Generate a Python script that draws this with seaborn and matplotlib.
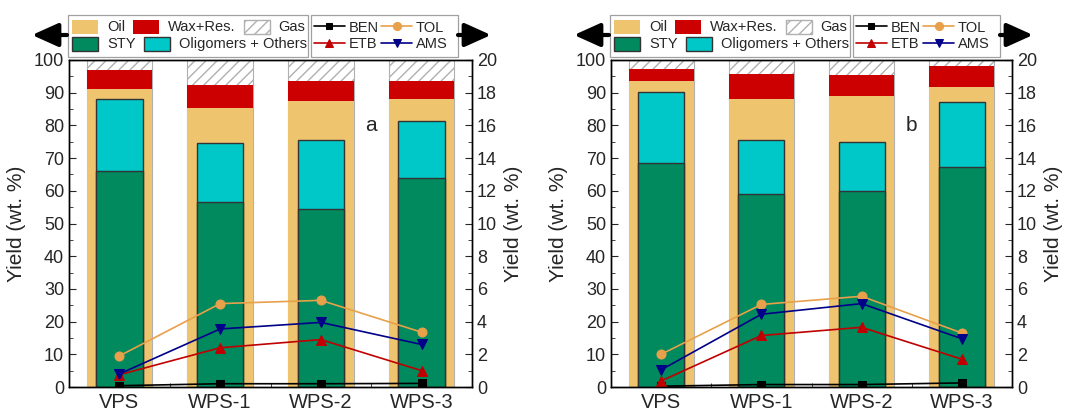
import numpy as np
import matplotlib.pyplot as plt
import seaborn as sns
from matplotlib.patches import Patch, Rectangle, FancyArrowPatch
from matplotlib.ticker import MultipleLocator, FixedLocator

samples = ["VPS", "WPS-1", "WPS-2", "WPS-3"]

# panel a
oil_a = [91.0, 85.4, 87.4, 88.2]
wax_a = [6.0, 7.1, 6.3, 5.3]
sty_a = [66.0, 56.5, 54.5, 64.0]
olig_a = [22.2, 18.0, 21.0, 17.4]
ben_a = [0.08, 0.2, 0.2, 0.22]
tol_a = [1.9, 5.1, 5.3, 3.35]
etb_a = [0.75, 2.4, 2.9, 1.0]
ams_a = [0.8, 3.55, 3.95, 2.6]

# panel b
oil_b = [93.7, 88.0, 89.0, 91.6]
wax_b = [3.4, 7.6, 6.4, 6.7]
sty_b = [68.4, 59.0, 60.0, 67.4]
olig_b = [21.9, 16.5, 14.8, 19.8]
ben_b = [0.05, 0.15, 0.15, 0.25]
tol_b = [2.0, 5.05, 5.55, 3.3]
etb_b = [0.37, 3.15, 3.65, 1.7]
ams_b = [1.05, 4.45, 5.1, 2.95]

c_oil = "#EEC46E"
c_wax = "#CC0000"
c_sty = "#008A5E"
c_olig = "#00C8C8"
c_ben = "black"
c_tol = "#E8A04A"
c_etb = "#C00000"
c_ams = "#000088"
c_gas = "#B0B0B0"

sns.set_style("ticks")
plt.rcParams["font.family"] = ["Liberation Sans", "DejaVu Sans"]

fig = plt.figure(figsize=(10.66, 4.12), dpi=100)
W, H = 1066, 412


def row_legend(handles, x, y):
    # one legend row, no frame; a common frame is drawn afterwards
    leg = fig.legend(handles=handles, ncol=len(handles), loc="center left",
                     bbox_to_anchor=(x / W, 1 - y / H), fontsize=10.5, frameon=False,
                     handlelength=1.8, handleheight=1.1, handletextpad=0.6,
                     columnspacing=0.55, borderpad=0, borderaxespad=0)
    return leg


def frame_box(xa, xb, ya, yb):
    fig.add_artist(Rectangle((xa / W, 1 - yb / H), (xb - xa) / W, (yb - ya) / H,
                             transform=fig.transFigure, facecolor="white",
                             edgecolor="#A0A0A0", lw=0.9, zorder=0.5))


def panel(x0, x1, oil, wax, sty, olig, ben, tol, etb, ams, letter):
    ax = fig.add_axes([x0 / W, 25 / H, (x1 - x0) / W, 327 / H])
    total = [100] * len(samples)
    ow = [o + w for o, w in zip(oil, wax)]
    so = [s + g for s, g in zip(sty, olig)]
    # outer bar: gas / wax / oil
    sns.barplot(x=samples, y=total, color="white", width=0.65, saturation=1, ax=ax,
                edgecolor=c_gas, linewidth=0.8, hatch="///")
    sns.barplot(x=samples, y=ow, color=c_wax, width=0.65, saturation=1, ax=ax, linewidth=0)
    sns.barplot(x=samples, y=oil, color=c_oil, width=0.65, saturation=1, ax=ax, linewidth=0)
    # inner bar: oligomers / styrene
    sns.barplot(x=samples, y=so, color=c_olig, width=0.46, saturation=1, ax=ax,
                edgecolor="#333333", linewidth=1)
    sns.barplot(x=samples, y=sty, color=c_sty, width=0.46, saturation=1, ax=ax,
                edgecolor="#333333", linewidth=1)
    ax.set_xlim(-0.5, 3.5)
    ax.set_ylim(0, 100)
    ax.yaxis.set_major_locator(MultipleLocator(10))
    ax.yaxis.set_minor_locator(MultipleLocator(5))
    ax.xaxis.set_minor_locator(FixedLocator([0.5, 1.5, 2.5]))
    ax.tick_params(axis="y", which="both", direction="in", labelsize=13)
    ax.tick_params(axis="y", which="major", length=5)
    ax.tick_params(axis="y", which="minor", length=3)
    ax.tick_params(axis="x", which="major", length=0, labelsize=14.5, pad=4)
    ax.tick_params(axis="x", which="minor", direction="in", length=3)
    ax.set_xlabel("")
    ax.set_ylabel("Yield (wt. %)", fontsize=15, labelpad=6)
    for s in ax.spines.values():
        s.set_color("black")
        s.set_linewidth(1)
    ax.text(2.5, 80, letter, fontsize=15, ha="center", va="center")

    ax2 = ax.twinx()
    xs = np.arange(len(samples))
    sns.lineplot(x=xs, y=ben, ax=ax2, color=c_ben, marker="s", markersize=5.5,
                 markeredgecolor=c_ben, lw=1.2, label="BEN")
    sns.lineplot(x=xs, y=etb, ax=ax2, color=c_etb, marker="^", markersize=7,
                 markeredgecolor=c_etb, lw=1.2, label="ETB")
    sns.lineplot(x=xs, y=tol, ax=ax2, color=c_tol, marker="o", markersize=6.5,
                 markeredgecolor=c_tol, lw=1.2, label="TOL")
    sns.lineplot(x=xs, y=ams, ax=ax2, color=c_ams, marker="v", markersize=7,
                 markeredgecolor=c_ams, lw=1.2, label="AMS")
    ax2.get_legend().remove()
    ax2.set_ylim(0, 20)
    ax2.set_xlim(-0.5, 3.5)
    ax2.yaxis.set_major_locator(MultipleLocator(2))
    ax2.yaxis.set_minor_locator(MultipleLocator(1))
    ax2.tick_params(axis="y", which="both", direction="in", labelsize=13)
    ax2.tick_params(axis="y", which="major", length=5)
    ax2.tick_params(axis="y", which="minor", length=3)
    ax2.set_ylabel("Yield (wt. %)", fontsize=15, labelpad=5)
    for s in ax2.spines.values():
        s.set_color("black")
        s.set_linewidth(1)

    # legends: bars (two rows) and lines
    p_oil = Patch(facecolor=c_oil, edgecolor="none", label="Oil")
    p_wax = Patch(facecolor=c_wax, edgecolor="none", label="Wax+Res.")
    p_gas = Patch(facecolor="white", edgecolor=c_gas, hatch="///", label="Gas")
    p_sty = Patch(facecolor=c_sty, edgecolor="#333333", label="STY")
    p_olig = Patch(facecolor=c_olig, edgecolor="#333333", label="Oligomers + Others")
    frame_box(x0 - 1, x0 + 239, 15, 57)
    row_legend([p_oil, p_wax, p_gas], x0 + 3, 27)
    row_legend([p_sty, p_olig], x0 + 3, 44)

    frame_box(x0 + 242, x0 + 389, 15, 57)
    h, l = ax2.get_legend_handles_labels()
    fig.legend(h, l, ncol=2, loc="center left",
               bbox_to_anchor=((x0 + 245) / W, 1 - 36 / H), fontsize=10.5,
               frameon=False, handlelength=2.1, handletextpad=0.25,
               columnspacing=0.2, borderpad=0, borderaxespad=0,
               labelspacing=0.2, markerscale=0.9)

    # direction arrows
    y_ar = (H - 35) / H
    for a, b in [((x0 - 2) / W, (x0 - 37) / W), ((x0 + 389) / W, (x0 + 422) / W)]:
        fig.add_artist(FancyArrowPatch(
            (a, y_ar), (b, y_ar), transform=fig.transFigure,
            arrowstyle="-|>,head_length=1.0,head_width=0.45", mutation_scale=16,
            color="black", lw=3, shrinkA=0, shrinkB=0, zorder=5))
    return ax, ax2


panel(69, 472, oil_a, wax_a, sty_a, olig_a, ben_a, tol_a, etb_a, ams_a, "a")
panel(611, 1012, oil_b, wax_b, sty_b, olig_b, ben_b, tol_b, etb_b, ams_b, "b")

fig.savefig("out.png", dpi=100)
